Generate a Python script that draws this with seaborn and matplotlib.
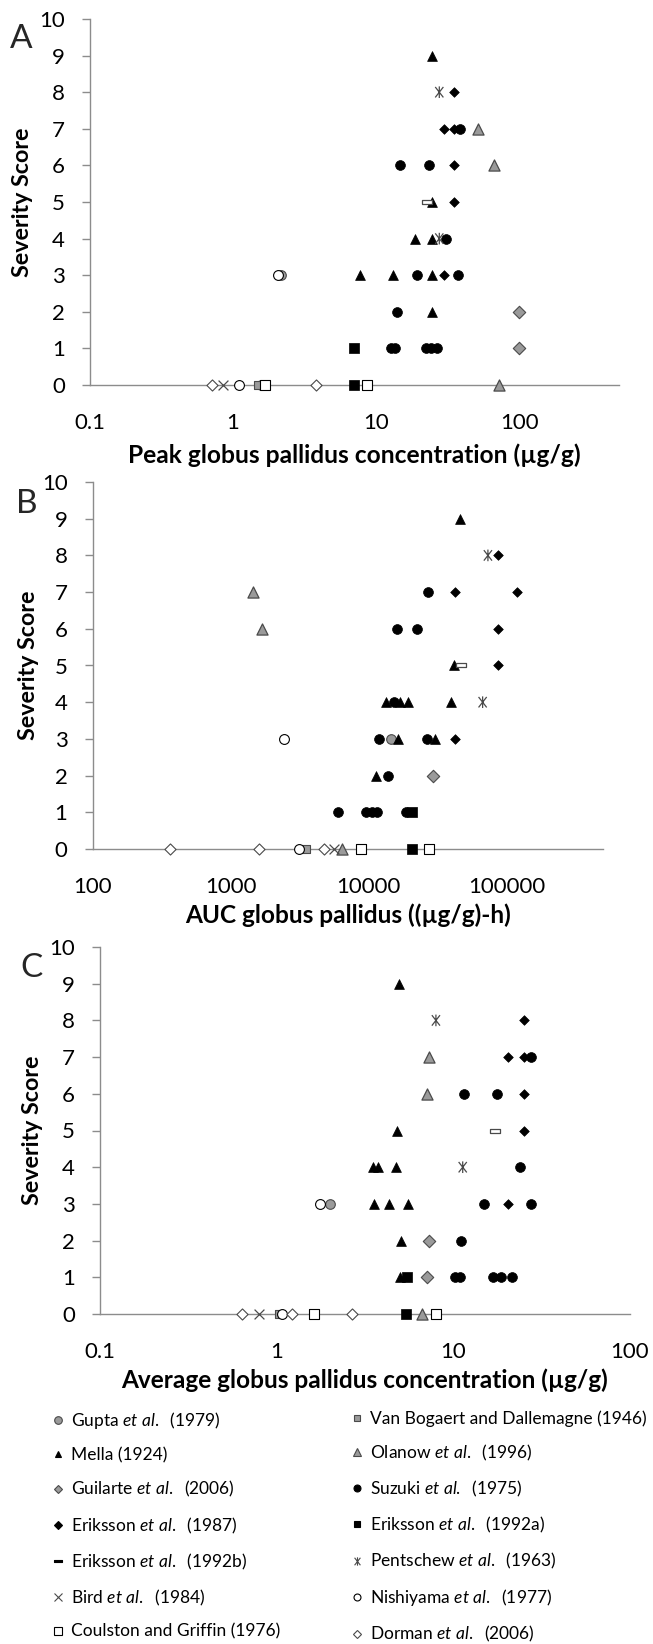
import numpy as np
import pandas as pd
import seaborn as sns
import matplotlib
matplotlib.use("Agg")
import matplotlib.pyplot as plt
from matplotlib.path import Path
from matplotlib.lines import Line2D
from matplotlib.ticker import FixedLocator, FixedFormatter, NullFormatter

# ---------------- data (x, severity) ----------------
# Panel A : peak globus pallidus concentration (ug/g)
GUPTA_A = [(2.15, 3), (1.58, 0)]
VANBOG_A = [(1.5, 0)]
MELLA_A = [(24.6, 9), (24.6, 5), (18.8, 4), (24.6, 4), (7.73, 3), (13.2, 3), (24.6, 3), (24.6, 2)]
OLANOW_A = [(52, 7), (67, 6), (72, 0)]
GUILARTE_A = [(100, 2), (100, 1)]
SUZUKI_A = [(38.5, 7), (14.6, 6), (23.6, 6), (30.9, 4), (19.4, 3), (37.6, 3), (14.0, 2),
            (12.7, 1), (13.6, 1), (22.4, 1), (24.3, 1), (26.5, 1)]
ERIK87_A = [(35.1, 8), (29.7, 7), (35.1, 7), (35.1, 6), (35.1, 5), (29.7, 3)]
ERIK92A_A = [(7.0, 1), (7.0, 0)]
ERIK92B_A = [(22.9, 5)]
PENTSCHEW_A = [(27.7, 8), (27.7, 4)]
BIRD_A = [(0.855, 0)]
NISHI_A = [(2.05, 3), (1.096, 0)]
COULSTON_A = [(1.67, 0), (8.6, 0)]
DORMAN_A = [(0.716, 0), (3.8, 0)]

# Panel B : AUC globus pallidus ((ug/g)-h)
GUPTA_B = [(14450, 3)]
VANBOG_B = [(3520, 0)]
MELLA_B = [(46300, 9), (41400, 5), (13450, 4), (16800, 4), (19370, 4), (39600, 4),
           (16400, 3), (30550, 3), (11270, 2)]
OLANOW_B = [(1466, 7), (1703, 6), (6400, 0)]
GUILARTE_B = [(29400, 2)]
SUZUKI_B = [(26900, 7), (16150, 6), (22500, 6), (15280, 4), (11900, 3), (26600, 3),
            (13900, 2), (6025, 1), (9540, 1), (10550, 1), (11580, 1), (18550, 1)]
ERIK87_B = [(86100, 8), (42100, 7), (119700, 7), (86100, 6), (86100, 5), (42100, 3)]
ERIK92A_B = [(20700, 1), (20500, 0)]
ERIK92B_B = [(47100, 5)]
PENTSCHEW_B = [(73300, 8), (67100, 4)]
BIRD_B = [(5640, 0)]
NISHI_B = [(2454, 3), (3113, 0)]
COULSTON_B = [(8790, 0), (27350, 0)]
DORMAN_B = [(363, 0), (1620, 0), (4720, 0)]

# Panel C : average globus pallidus concentration (ug/g)
GUPTA_C = [(2.0, 3)]
VANBOG_C = [(1.03, 0)]
MELLA_C = [(4.94, 9), (4.80, 5), (3.52, 4), (3.76, 4), (4.76, 4), (3.56, 3), (4.34, 3),
           (5.51, 3), (5.06, 2), (4.99, 1)]
OLANOW_C = [(7.28, 7), (7.06, 6), (6.67, 0)]
GUILARTE_C = [(7.28, 2), (7.11, 1)]
SUZUKI_C = [(27.6, 7), (11.5, 6), (17.6, 6), (23.7, 4), (14.9, 3), (27.6, 3), (11.1, 2),
            (10.26, 1), (10.9, 1), (16.8, 1), (18.7, 1), (21.4, 1)]
ERIK87_C = [(25.1, 8), (20.5, 7), (25.1, 7), (25.1, 6), (25.1, 5), (20.5, 3)]
ERIK92A_C = [(5.45, 1), (5.40, 0)]
ERIK92B_C = [(17.2, 5)]
PENTSCHEW_C = [(7.97, 8), (11.3, 4)]
BIRD_C = [(0.797, 0)]
NISHI_C = [(1.77, 3), (1.07, 0)]
COULSTON_C = [(1.63, 0), (7.97, 0)]
DORMAN_C = [(0.638, 0), (1.225, 0), (2.67, 0)]

STUDIES = ["Gupta", "VanBogaert", "Mella", "Olanow", "Guilarte", "Suzuki", "Eriksson87",
           "Eriksson92a", "Eriksson92b", "Pentschew", "Bird", "Nishiyama", "Coulston", "Dorman"]
LABELS = [r"Gupta $\it{et\ al.}$  (1979)", "Van Bogaert and Dallemagne (1946)", "Mella (1924)",
          r"Olanow $\it{et\ al.}$  (1996)", r"Guilarte $\it{et\ al.}$  (2006)",
          r"Suzuki $\it{et\ al.}$  (1975)", r"Eriksson $\it{et\ al.}$  (1987)",
          r"Eriksson $\it{et\ al.}$  (1992a)", r"Eriksson $\it{et\ al.}$  (1992b)",
          r"Pentschew $\it{et\ al.}$  (1963)", r"Bird $\it{et\ al.}$  (1984)",
          r"Nishiyama $\it{et\ al.}$  (1977)", "Coulston and Griffin (1976)",
          r"Dorman $\it{et\ al.}$  (2006)"]

PANEL_A = [GUPTA_A, VANBOG_A, MELLA_A, OLANOW_A, GUILARTE_A, SUZUKI_A, ERIK87_A, ERIK92A_A,
           ERIK92B_A, PENTSCHEW_A, BIRD_A, NISHI_A, COULSTON_A, DORMAN_A]
PANEL_B = [GUPTA_B, VANBOG_B, MELLA_B, OLANOW_B, GUILARTE_B, SUZUKI_B, ERIK87_B, ERIK92A_B,
           ERIK92B_B, PENTSCHEW_B, BIRD_B, NISHI_B, COULSTON_B, DORMAN_B]
PANEL_C = [GUPTA_C, VANBOG_C, MELLA_C, OLANOW_C, GUILARTE_C, SUZUKI_C, ERIK87_C, ERIK92A_C,
           ERIK92B_C, PENTSCHEW_C, BIRD_C, NISHI_C, COULSTON_C, DORMAN_C]

XLABELS = ["Peak globus pallidus concentration (\u00b5g/g)",
           "AUC globus pallidus ((\u00b5g/g)-h)",
           "Average globus pallidus concentration (\u00b5g/g)"]
XTICKS = [[0.1, 1, 10, 100], [100, 1000, 10000, 100000], [0.1, 1, 10, 100]]
XTICKLABELS = [["0.1", "1", "10", "100"], ["100", "1000", "10000", "100000"],
               ["0.1", "1", "10", "100"]]
XLIMS = [(0.1, 500), (100, 500000), (0.1, 100)]
LETTERS = ["A", "B", "C"]

# ---------------- styling ----------------
sns.set_theme(style="white")
FONT = ["Lato", "DejaVu Sans"]
plt.rcParams["font.family"] = FONT
plt.rcParams["mathtext.fontset"] = "custom"
plt.rcParams["mathtext.rm"] = "Lato"
plt.rcParams["mathtext.it"] = "Lato:italic"

GRAY = "#9a9a9a"
DARK = "#4a4a4a"
AXC = "#8c8c8c"
RECT = Path([(-1, -0.3), (1, -0.3), (1, 0.3), (-1, 0.3), (-1, -0.3)],
            [Path.MOVETO, Path.LINETO, Path.LINETO, Path.LINETO, Path.CLOSEPOLY])
STAR = Path([(0, -1), (0, 1), (-0.7, -0.9), (0.7, 0.9), (-0.7, 0.9), (0.7, -0.9)],
            [Path.MOVETO, Path.LINETO, Path.MOVETO, Path.LINETO, Path.MOVETO, Path.LINETO])

STYLE = {
    "Gupta": dict(marker="o", facecolor=GRAY, edgecolor=DARK, s=48, linewidth=0.8),
    "VanBogaert": dict(marker="s", facecolor=GRAY, edgecolor=DARK, s=36, linewidth=0.8),
    "Mella": dict(marker="^", facecolor="black", edgecolor="black", s=50, linewidth=0.5),
    "Olanow": dict(marker="^", facecolor=GRAY, edgecolor=DARK, s=64, linewidth=0.9),
    "Guilarte": dict(marker="D", facecolor=GRAY, edgecolor=DARK, s=40, linewidth=0.8),
    "Suzuki": dict(marker="o", facecolor="black", edgecolor="black", s=50, linewidth=0.5),
    "Eriksson87": dict(marker="D", facecolor="black", edgecolor="black", s=24, linewidth=0.5),
    "Eriksson92a": dict(marker="s", facecolor="black", edgecolor="black", s=46, linewidth=0.5),
    "Eriksson92b": dict(marker=RECT, facecolor="white", edgecolor=DARK, s=60, linewidth=0.9),
    "Pentschew": dict(marker=STAR, facecolor="none", edgecolor=DARK, s=70, linewidth=0.9),
    "Bird": dict(marker="x", color=DARK, s=50, linewidth=0.9),
    "Nishiyama": dict(marker="o", facecolor="white", edgecolor="black", s=50, linewidth=0.8),
    "Coulston": dict(marker="s", facecolor="white", edgecolor="black", s=48, linewidth=0.8),
    "Dorman": dict(marker="D", facecolor="white", edgecolor=DARK, s=32, linewidth=0.8),
}
LEG = {
    "Gupta": dict(marker="o", mfc=GRAY, mec=DARK, ms=5.5),
    "VanBogaert": dict(marker="s", mfc=GRAY, mec=DARK, ms=5),
    "Mella": dict(marker="^", mfc="black", mec="black", ms=5),
    "Olanow": dict(marker="^", mfc=GRAY, mec=DARK, ms=5.5),
    "Guilarte": dict(marker="D", mfc=GRAY, mec=DARK, ms=4.2),
    "Suzuki": dict(marker="o", mfc="black", mec="black", ms=5),
    "Eriksson87": dict(marker="D", mfc="black", mec="black", ms=4),
    "Eriksson92a": dict(marker="s", mfc="black", mec="black", ms=5),
    "Eriksson92b": dict(marker=RECT, mfc="black", mec="black", ms=6),
    "Pentschew": dict(marker=STAR, mfc="none", mec=DARK, ms=6),
    "Bird": dict(marker="x", mfc=DARK, mec=DARK, ms=6),
    "Nishiyama": dict(marker="o", mfc="white", mec="black", ms=5),
    "Coulston": dict(marker="s", mfc="white", mec="black", ms=5.5),
    "Dorman": dict(marker="D", mfc="white", mec=DARK, ms=4.2),
}

W, H = 653, 1644
fig = plt.figure(figsize=(W / 100, H / 100), dpi=100)
renderer = fig.canvas.get_renderer()


def fit_width(txt, target, vertical=False):
    bb = txt.get_window_extent(renderer)
    cur = bb.height if vertical else bb.width
    txt.set_fontsize(txt.get_fontsize() * target / cur)


# axes rectangles in pixels: left, right, top, bottom
BOXES = [(90, 619, 19, 385), (92.5, 603, 482, 849), (100, 630, 947, 1314)]
LETTER_POS = [(21, 39), (27, 504), (32, 968)]
XLABEL_Y = [455, 915, 1380]
XLABEL_W = [453, 327, 488]
YLABEL_X = [23, 28, 33]

rows = []
for p, panel in enumerate([PANEL_A, PANEL_B, PANEL_C]):
    for st, pts in zip(STUDIES, panel):
        for x, y in pts:
            rows.append(dict(panel=p, study=st, x=x, y=y))
df = pd.DataFrame(rows)

for p in range(3):
    l, r, t, b = BOXES[p]
    ax = fig.add_axes([l / W, 1 - b / H, (r - l) / W, (b - t) / H])
    sub = df[df.panel == p]
    for st in STUDIES:
        d = sub[sub.study == st]
        if d.empty:
            continue
        sns.scatterplot(data=d, x="x", y="y", ax=ax, legend=False, clip_on=False,
                        zorder=3, **STYLE[st])
    ax.set_xscale("log")
    ax.set_xlim(*XLIMS[p])
    ax.set_ylim(0, 10)
    ax.set_yticks(range(11))
    ax.set_yticklabels([str(i) for i in range(11)])
    ax.xaxis.set_major_locator(FixedLocator(XTICKS[p]))
    ax.xaxis.set_major_formatter(FixedFormatter(XTICKLABELS[p]))
    lo, hi = XLIMS[p]
    minors = []
    dec = lo
    while dec < hi:
        for k in range(2, 10):
            v = dec * k
            if v <= hi * 1.0001:
                minors.append(v)
        dec *= 10
    ax.xaxis.set_minor_locator(FixedLocator(minors))
    ax.xaxis.set_minor_formatter(NullFormatter())
    for s in ["top", "right"]:
        ax.spines[s].set_visible(False)
    for s in ["left", "bottom"]:
        ax.spines[s].set_color(AXC)
        ax.spines[s].set_linewidth(1.0)
    ax.tick_params(axis="x", which="major", direction="out", length=6, width=1.0,
                   color=AXC, pad=14, labelsize=16, labelcolor="black")
    ax.tick_params(axis="x", which="minor", direction="out", length=4.5, width=1.0, color=AXC)
    ax.tick_params(axis="y", which="major", direction="out", length=6, width=1.0,
                   color=AXC, pad=12, labelsize=16, labelcolor="black", left=True)
    ax.grid(False)
    ax.set_facecolor("none")

    ax.set_xlabel(XLABELS[p], fontsize=16, fontweight="bold", color="black")
    fit_width(ax.xaxis.label, XLABEL_W[p])
    ax.xaxis.label.set_va("center")
    ax.xaxis.set_label_coords(0.5, (b - XLABEL_Y[p]) / (b - t))

    ax.set_ylabel("Severity Score", fontsize=16, fontweight="bold", color="black")
    fit_width(ax.yaxis.label, 150, vertical=True)
    ax.yaxis.label.set_va("center")
    ax.yaxis.set_label_coords((YLABEL_X[p] - l) / (r - l), 0.5)

    lx, ly = LETTER_POS[p]
    fig.text(lx / W, 1 - ly / H, LETTERS[p], fontsize=24, ha="center", va="center")

# legend font size fitted to the reference width of the longest entry
probe = fig.text(0, 0, LABELS[1], fontsize=12)
fit_width(probe, 276)
LEG_FS = probe.get_fontsize()
probe.remove()
fs_px = LEG_FS * 100 / 72
ROW = 35.5
TEXT_H = 1.12 * fs_px

handles = [Line2D([], [], linestyle="none", markeredgewidth=0.8, **LEG[st]) for st in STUDIES]
left_idx = list(range(0, 14, 2))
right_idx = list(range(1, 14, 2))
for idx, xpix in [(left_idx, 51), (right_idx, 350)]:
    leg = fig.legend([handles[i] for i in idx], [LABELS[i] for i in idx], loc="upper left",
                     bbox_to_anchor=(xpix / W, 1 - (1420 - TEXT_H / 2) / H), frameon=False,
                     fontsize=LEG_FS, handlelength=0.8, handletextpad=0.32,
                     labelspacing=(ROW - TEXT_H) / fs_px, borderpad=0, borderaxespad=0)
    for txt in leg.get_texts():
        txt.set_color("black")

fig.savefig("out.png", dpi=100)
